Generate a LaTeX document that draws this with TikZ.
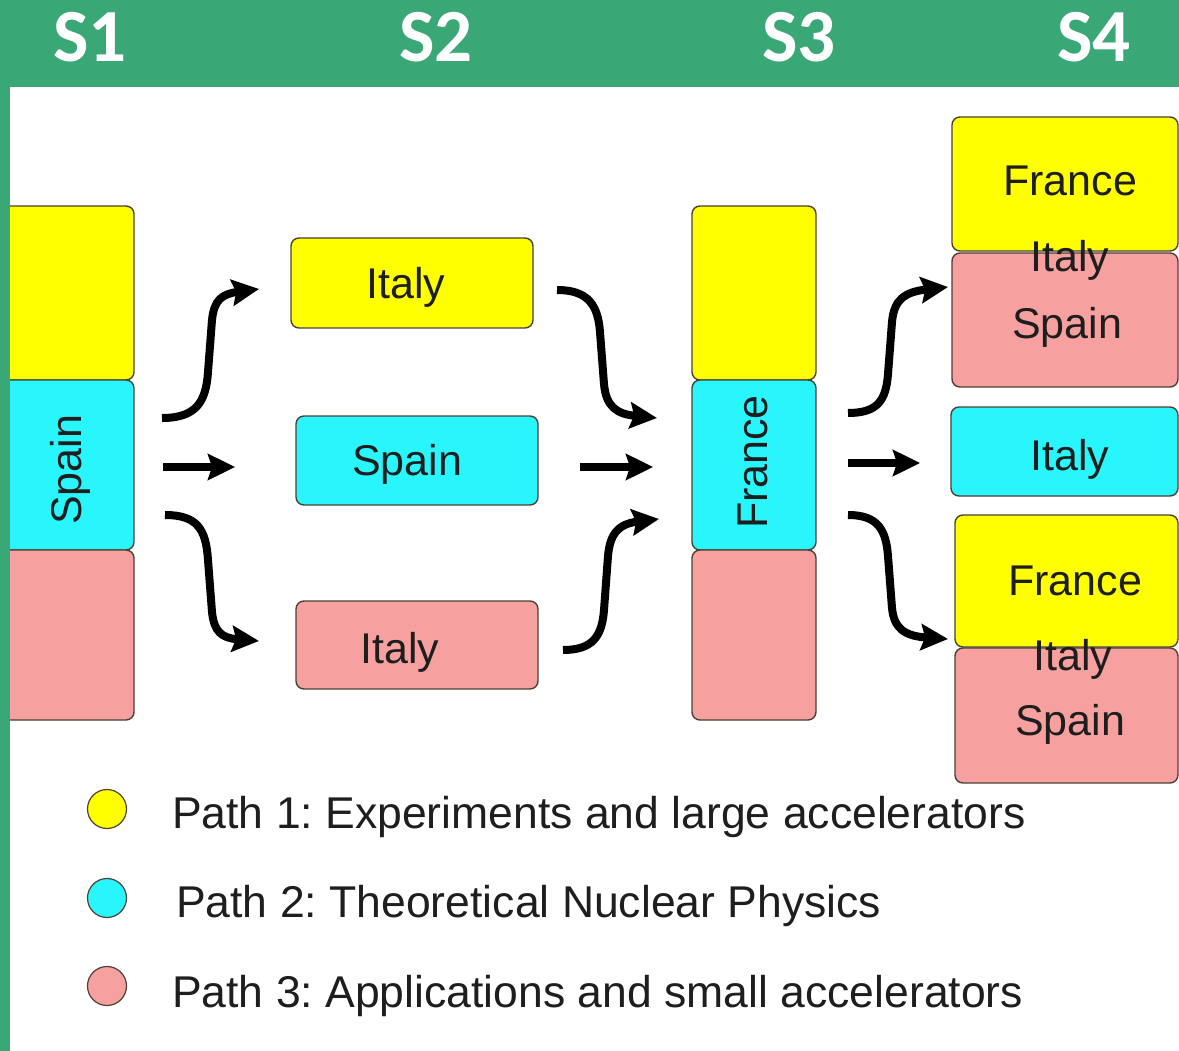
\documentclass[tikz,border=0pt]{standalone}
\usepackage{fontspec}
\setmainfont{Liberation Sans}
\newfontfamily\headfont{Carlito}
\usetikzlibrary{arrows.meta,calc}
\definecolor{bandgreen}{RGB}{58,168,118}
\definecolor{pathyellow}{RGB}{255,255,0}
\definecolor{pathcyan}{RGB}{40,246,252}
\definecolor{pathpink}{RGB}{247,160,160}
\definecolor{edge}{RGB}{75,65,55}
\definecolor{ink}{RGB}{30,30,30}
\frenchspacing

\begin{document}
\begin{tikzpicture}[x=1pt,y=-1pt,
  box/.style={draw=edge, line width=1.4pt, rounded corners=8pt, inner sep=0pt},
  ylw/.style={box, fill=pathyellow},
  cyn/.style={box, fill=pathcyan},
  pnk/.style={box, fill=pathpink},
  lbl/.style={text=ink, font=\fontsize{43}{50}\selectfont, inner sep=0pt, anchor=base},
  vlbl/.style={text=ink, font=\fontsize{43}{50}\selectfont, inner sep=0pt, rotate=90},
  flow/.style={line width=8pt, -{Stealth[length=27pt,width=26pt,inset=4pt]}},
  head/.style={text=white, font=\headfont\bfseries\fontsize{75}{80}\selectfont, inner sep=0pt},
  legtext/.style={text=ink, font=\fontsize{44.5}{50}\selectfont, anchor=base west, inner sep=0pt},
  dot/.style={circle, draw=edge, line width=1.2pt, minimum size=39pt, inner sep=0pt}]

\useasboundingbox (0,0) rectangle (1179,1051);
\fill[white] (0,0) rectangle (1179,1051);

% ---- S1 stack
\node[ylw, minimum width=144pt, minimum height=174pt] (s1y) at (62,293) {};
\node[cyn, minimum width=144pt, minimum height=170pt] (s1c) at (62,465) {};
\node[pnk, minimum width=144pt, minimum height=170pt] (s1p) at (62,635) {};
\node[vlbl] (s1t) at (70,470) {Spain};

% ---- S2 boxes
\node[ylw, minimum width=242pt, minimum height=90pt] (s2y) at (412,283) {};
\node[cyn, minimum width=242pt, minimum height=89pt] (s2c) at (417,460.5) {};
\node[pnk, minimum width=242pt, minimum height=88pt] (s2p) at (417,645) {};
\node[lbl] (s2yt) at (406,299) {Italy};
\node[lbl] (s2ct) at (407,475) {Spain};
\node[lbl] (s2pt) at (400,663) {Italy};

% ---- S3 stack
\node[ylw, minimum width=124pt, minimum height=174pt] (s3y) at (754,293) {};
\node[cyn, minimum width=124pt, minimum height=170pt] (s3c) at (754,465) {};
\node[pnk, minimum width=124pt, minimum height=170pt] (s3p) at (754,635) {};
\node[vlbl] (s3t) at (753,462) {France};

% ---- S4 boxes
\node[ylw, minimum width=226pt, minimum height=134pt] (s4ay) at (1065,184) {};
\node[pnk, minimum width=226pt, minimum height=134pt] (s4ap) at (1065,320) {};
\node[cyn, minimum width=227pt, minimum height=89pt] (s4c) at (1064.5,451.5) {};
\node[ylw, minimum width=223pt, minimum height=132pt] (s4by) at (1066.5,581) {};
\node[pnk, minimum width=223pt, minimum height=135pt] (s4bp) at (1066.5,715.5) {};
\node[lbl] (s4a1) at (1070,195.5) {France};
\node[lbl] (s4a2) at (1070,272) {Italy};
\node[lbl] (s4a3) at (1067,338) {Spain};
\node[lbl] (s4ct) at (1070,470) {Italy};
\node[lbl] (s4b1) at (1075,595) {France};
\node[lbl] (s4b2) at (1073,670) {Italy};
\node[lbl] (s4b3) at (1070,735) {Spain};

% ---- arrow end points
\coordinate (a1) at (162,418);  \coordinate (b1) at (259,289);
\coordinate (a2) at (163,467);  \coordinate (b2) at (235,467);
\coordinate (a3) at (165,515);  \coordinate (b3) at (259,641);
\coordinate (c1) at (557,290);  \coordinate (d1) at (657,418);
\coordinate (c2) at (580,467);  \coordinate (d2) at (653,467);
\coordinate (c3) at (563,650);  \coordinate (d3) at (659,519);
\coordinate (e1) at (848,413);  \coordinate (f1) at (948,287);
\coordinate (e2) at (848,463);  \coordinate (f2) at (920,463);
\coordinate (e3) at (848,515);  \coordinate (f3) at (948,639);

% S1 -> S2
\draw[flow] (a1) .. controls (196,418) and (206,402) .. (208,372)
  -- (212,320) .. controls (214,300) and (222,294) .. (b1);
\draw[flow] (a2) -- (b2);
\draw[flow] (a3) .. controls (198,515) and (206,530) .. (208,560)
  -- (212,612) .. controls (214,632) and (222,638) .. (b3);
% S2 -> S3
\draw[flow] (c1) .. controls (588,290) and (598,305) .. (600,332)
  -- (604,384) .. controls (606,406) and (616,414) .. (d1);
\draw[flow] (c2) -- (d2);
\draw[flow] (c3) .. controls (593,650) and (602,636) .. (604,610)
  -- (608,556) .. controls (610,534) and (618,524) .. (d3);
% S3 -> S4
\draw[flow] (e1) .. controls (878,413) and (886,400) .. (888,374)
  -- (892,322) .. controls (894,300) and (904,292) .. (f1);
\draw[flow] (e2) -- (f2);
\draw[flow] (e3) .. controls (878,515) and (886,530) .. (888,556)
  -- (892,608) .. controls (894,628) and (904,636) .. (f3);

% ---- legend
\node[dot, fill=pathyellow] (l1) at (107,809) {};
\node[dot, fill=pathcyan]   (l2) at (107,898) {};
\node[dot, fill=pathpink]   (l3) at (107,986) {};
\node[legtext] (t1) at (172,828) {Path 1: Experiments and large accelerators};
\node[legtext] (t2) at (176,917) {Path 2: Theoretical Nuclear Physics};
\node[legtext] (t3) at (172,1007) {Path 3: Applications and small accelerators};

% ---- green frame and stage headings
\fill[bandgreen] (0,0) rectangle (1179,87);
\fill[bandgreen] (0,87) rectangle (10,1051);
\node[head] (h1) at (90,37) {S1};
\node[head] (h2) at (436,37) {S2};
\node[head] (h3) at (799,37) {S3};
\node[head] (h4) at (1094,37) {S4};
\end{tikzpicture}
\end{document}
